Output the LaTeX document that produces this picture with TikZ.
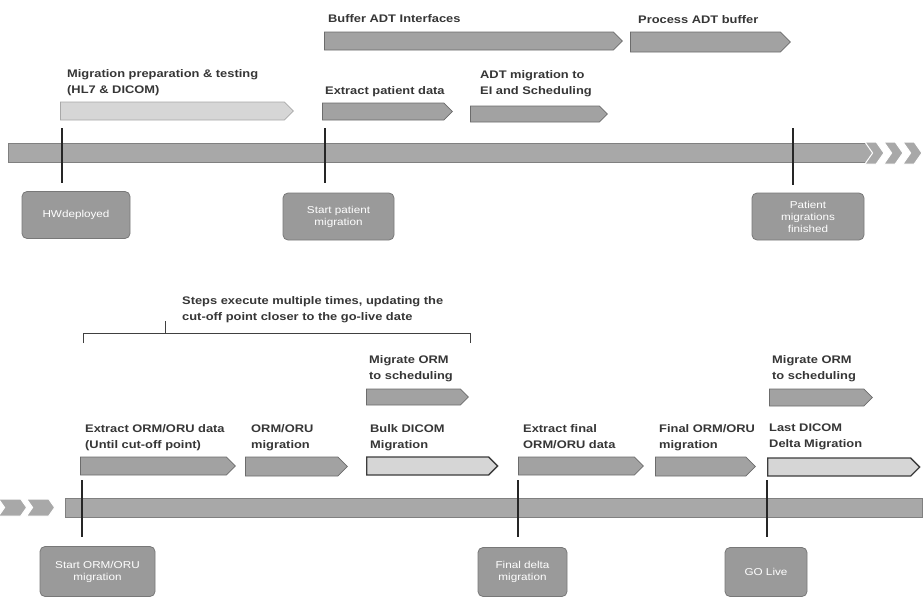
\documentclass[tikz,border=0pt]{standalone}
\usepackage{fontspec}
\setmainfont[FakeStretch=1.17]{Liberation Sans}
\usetikzlibrary{shapes.symbols}
\definecolor{barfill}{HTML}{A2A2A2}
\definecolor{bardraw}{HTML}{6C6C6C}
\definecolor{lightfill}{HTML}{D6D6D6}
\definecolor{lightdraw}{HTML}{A8A8A8}
\definecolor{darkdraw}{HTML}{3C3C3C}
\definecolor{linefill}{HTML}{A8A8A8}
\definecolor{linedraw}{HTML}{808080}
\definecolor{msfill}{HTML}{9A9A9A}
\definecolor{msdraw}{HTML}{787878}
\definecolor{txt}{HTML}{363636}
\tikzset{
  lbl/.style={anchor=north west, font=\bfseries\fontsize{11}{16}\selectfont, text=txt, inner sep=0pt, align=left},
  bar/.style={shape=signal, signal to=east, signal pointer angle=90, fill=barfill, draw=bardraw, line width=0.8pt, inner sep=0pt, anchor=west},
  lbar/.style={bar, fill=lightfill, draw=darkdraw, line width=1.3pt},
  pbar/.style={bar, fill=lightfill, draw=lightdraw},
  tline/.style={rectangle, fill=linefill, draw=linedraw, line width=0.8pt, inner sep=0pt},
  chev/.style={shape=signal, signal from=west, signal to=east, signal pointer angle=110, fill=linefill, draw=white, line width=1pt, inner sep=0pt, anchor=west},
  ms/.style={rectangle, rounded corners=5pt, fill=msfill, draw=msdraw, text=white, font=\fontsize{10}{12}\selectfont, align=center, line width=0.8pt, inner sep=1pt},
  tick/.style={line width=1.7pt, draw=black!85},
  brk/.style={line width=1pt, draw=black!75},
}
\begin{document}
\begin{tikzpicture}[x=1pt,y=-1pt]
\useasboundingbox (0,0) rectangle (923,597);
% ---------- top timeline ----------
\node[tline, minimum width=865pt, minimum height=19pt] (tl1) at (440.5,152.5) {};
\node[chev, minimum width=19pt, minimum height=22pt] (c1) at (872,153) {};
\node[chev, minimum width=19pt, minimum height=22pt] (c2) at (891,153) {};
\node[chev, minimum width=19pt, minimum height=22pt] (c3) at (910,153) {};

\node[lbl] (lbuf) at (328,14) {Buffer ADT Interfaces};
\node[bar, minimum width=298pt, minimum height=18pt] (bbuf) at (324,41) {};
\node[lbl] (lproc) at (638,15) {Process ADT buffer};
\node[bar, minimum width=160pt, minimum height=20pt] (bproc) at (630,42) {};

\node[lbl] (lprep) at (67,69) {Migration preparation \& testing\\(HL7 \& DICOM)};
\node[pbar, minimum width=233pt, minimum height=18pt] (bprep) at (60,111) {};
\node[lbl] (lext) at (325,86) {Extract patient data};
\node[bar, minimum width=130pt, minimum height=17pt] (bext) at (322,111.5) {};
\node[lbl] (ladt) at (480,70) {ADT migration to\\EI and Scheduling};
\node[bar, minimum width=137pt, minimum height=16pt] (badt) at (470,114) {};

\coordinate (t1a) at (62,128); \coordinate (t1b) at (62,183);
\coordinate (t2a) at (325,128); \coordinate (t2b) at (325,183);
\coordinate (t3a) at (793,128); \coordinate (t3b) at (793,185);
\draw[tick] (t1a) -- (t1b);
\draw[tick] (t2a) -- (t2b);
\draw[tick] (t3a) -- (t3b);

\node[ms, minimum width=108pt, minimum height=47pt] (hw) at (76,215) {HWdeployed};
\node[ms, minimum width=111pt, minimum height=47pt] (spm) at (338.5,216.5) {Start patient\\migration};
\node[ms, minimum width=112pt, minimum height=47pt] (pmf) at (808,216.5) {Patient\\migrations\\finished};

% ---------- bottom timeline ----------
\node[lbl] (lsteps) at (182,296) {Steps execute multiple times, updating the\\cut-off point closer to the go-live date};
\coordinate (bka) at (83,343); \coordinate (bkb) at (83,333);
\coordinate (bkc) at (470,333); \coordinate (bkd) at (470,343);
\coordinate (bke) at (165,333); \coordinate (bkf) at (165,321);
\draw[brk] (bka) -- (bkb) -- (bkc) -- (bkd);
\draw[brk] (bke) -- (bkf);

\node[lbl] (lmig1) at (369,355) {Migrate ORM\\to scheduling};
\node[bar, minimum width=102pt, minimum height=16pt] (bmig1) at (366,397) {};
\node[lbl] (lmig2) at (772,355) {Migrate ORM\\to scheduling};
\node[bar, minimum width=103pt, minimum height=17pt] (bmig2) at (769,397.5) {};

\node[lbl] (lexorm) at (85,424) {Extract ORM/ORU data\\(Until cut-off point)};
\node[bar, minimum width=155pt, minimum height=18pt] (bexorm) at (80,466) {};
\node[lbl] (lorm) at (251,424) {ORM/ORU\\migration};
\node[bar, minimum width=102pt, minimum height=19pt] (borm) at (245,466.5) {};
\node[lbl] (lbulk) at (370,424) {Bulk DICOM\\Migration};
\node[lbar, minimum width=131pt, minimum height=18pt] (bbulk) at (366,466) {};
\node[lbl] (lexfin) at (523,424) {Extract final\\ORM/ORU data};
\node[bar, minimum width=125pt, minimum height=18pt] (bexfin) at (518,466) {};
\node[lbl] (lfin) at (659,424) {Final ORM/ORU\\migration};
\node[bar, minimum width=100pt, minimum height=19pt] (bfin) at (655,466.5) {};
\node[lbl] (llast) at (769,424) {Last DICOM\\Delta Migration};
\node[lbar, minimum width=152pt, minimum height=18pt] (blast) at (767,467) {};

\node[chev, minimum width=28pt, minimum height=17pt] (c4) at (4,507.5) {};
\node[chev, minimum width=28pt, minimum height=17pt] (c5) at (32,507.5) {};
\node[tline, minimum width=857pt, minimum height=19pt] (tl2) at (493.5,507.5) {};

\coordinate (t4a) at (82,480); \coordinate (t4b) at (82,537);
\coordinate (t5a) at (518,480); \coordinate (t5b) at (518,537);
\coordinate (t6a) at (767,480); \coordinate (t6b) at (767,537);
\draw[tick] (t4a) -- (t4b);
\draw[tick] (t5a) -- (t5b);
\draw[tick] (t6a) -- (t6b);

\node[ms, minimum width=115pt, minimum height=50pt] (sorm) at (97.5,571.5) {Start ORM/ORU\\migration};
\node[ms, minimum width=89pt, minimum height=49pt] (fdm) at (522.5,572) {Final delta\\migration};
\node[ms, minimum width=82pt, minimum height=49pt] (go) at (766,572) {GO Live};
\end{tikzpicture}
\end{document}
